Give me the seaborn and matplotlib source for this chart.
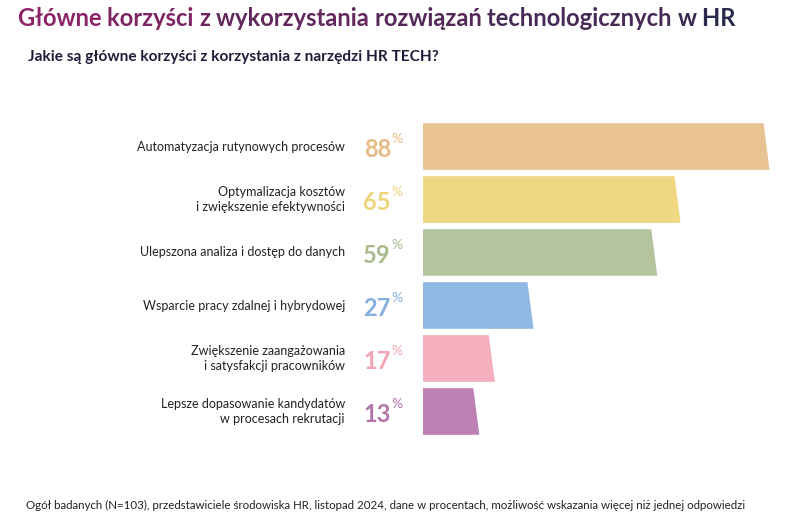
import numpy as np
import pandas as pd
import matplotlib
matplotlib.use("Agg")
import matplotlib.pyplot as plt
import matplotlib.transforms as mtransforms
from matplotlib.patches import Polygon
from matplotlib.colors import to_rgb
import seaborn as sns

# Data
categories = [
    "Automatyzacja rutynowych procesów",
    "Optymalizacja kosztów\ni zwiększenie efektywności",
    "Ulepszona analiza i dostęp do danych",
    "Wsparcie pracy zdalnej i hybrydowej",
    "Zwiększenie zaangażowania\ni satysfakcji pracowników",
    "Lepsze dopasowanie kandydatów\nw procesach rekrutacji",
]
values = [88, 65, 59, 27, 17, 13]
bar_colors = ["#E8C291", "#F0D882", "#B5C49C", "#8FB8E3", "#F4AEBD", "#BE80B5"]
label_colors = ["#E6BC86", "#EDD37A", "#A9BA8E", "#84AFDF", "#F2A3B4", "#B374AA"]

title = "Główne korzyści z wykorzystania rozwiązań technologicznych w HR"
subtitle = "Jakie są główne korzyści z korzystania z narzędzi HR TECH?"
footer = ("Ogół badanych (N=103), przedstawiciele środowiska HR, listopad 2024, "
          "dane w procentach, możliwość wskazania więcej niż jednej odpowiedzi")

df = pd.DataFrame({"cat": categories, "val": values})

sns.set_style("white")
plt.rcParams["font.family"] = ["Lato", "DejaVu Sans"]

W, H = 800, 521
fig = plt.figure(figsize=(W / 100, H / 100), dpi=100)
ax = fig.add_axes([423 / W, (H - 438) / H, (790 - 423) / W, 318 / H])

sns.barplot(data=df, x="val", y="cat", hue="cat", palette=bar_colors,
            width=0.88, saturation=1, legend=False, ax=ax, orient="h")
ax.set_xlim(0, (790 - 423) / 3.87)
ax.set_ylim(5.5, -0.5)
ax.axis("off")

# make the right edge of each bar slanted
slant = 6 / 3.87
for p in list(ax.patches):
    x0, y0 = p.get_x(), p.get_y()
    w, h = p.get_width(), p.get_height()
    col = p.get_facecolor()
    p.remove()
    poly = Polygon([(x0, y0), (x0 + w, y0), (x0 + w + slant, y0 + h), (x0, y0 + h)],
                   closed=True, facecolor=col, edgecolor="none")
    ax.add_patch(poly)

tr = mtransforms.blended_transform_factory(fig.transFigure, ax.transData)
for i, (c, v) in enumerate(zip(categories, values)):
    ax.text(345 / W, i, c, transform=tr, ha="right", va="center",
            fontsize=9, color="#222222", multialignment="right", linespacing=1.25)
    ax.text(391 / W, i + 0.05, str(v), transform=tr, ha="right", va="center",
            fontsize=17, fontweight="bold", color=label_colors[i])
    ax.text(391 / W, i - 0.14, "%", transform=tr, ha="left", va="center",
            fontsize=10, color=label_colors[i])

# title with gradient colour, word by word
c0 = np.array(to_rgb("#8C2468"))
c1 = np.array(to_rgb("#2A2B4C"))
words = title.split(" ")
renderer = fig.canvas.get_renderer()
x = 18 / W
n = len(words)
for k, wd in enumerate(words):
    col = c0 + (c1 - c0) * (k / (n - 1))
    t = fig.text(x, 1 - 18 / H, wd + " ", fontsize=17.1, fontweight="bold",
                 color=col, va="center", ha="left")
    bb = t.get_window_extent(renderer)
    x = bb.x1 / W

fig.text(28 / W, 1 - 57 / H, subtitle, fontsize=11.1, fontweight="bold",
         color="#1E1E3A", va="center", ha="left")
fig.text(26 / W, 1 - 505 / H, footer, fontsize=8.3, color="#222222",
         va="center", ha="left")

fig.savefig("out.png", dpi=100)
